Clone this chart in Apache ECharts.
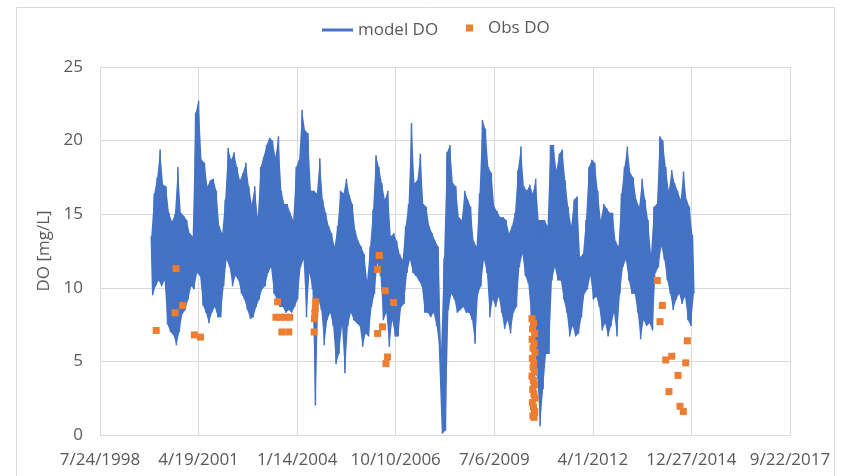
<!DOCTYPE html>
<html>
<head>
<meta charset="utf-8">
<script src="https://cdn.jsdelivr.net/npm/echarts@6/dist/echarts.min.js"></script>
<style>html,body{margin:0;padding:0;background:#fff;}#c{width:850px;height:476px;}</style>
</head>
<body>
<div id="c"></div>
<script>
// X values are Excel serial day numbers (36000 = 7/24/1998)
const xTicks = [36000, 37000, 38000, 39000, 40000, 41000, 42000, 43000];
const yTicks = [0, 5, 10, 15, 20, 25];
const seriesNames = ['model DO', 'Obs DO'];

// model DO: daily band read as high/low envelope per 30-day window, starting at day 36520
const modelStartDay = 36520;
const modelStepDays = 30;
const modelHigh = [
13.5,16.4,17.5,19.4,17.0,16.9,15.1,14.5,15.0,18.2,15.1,14.9,14.6,13.7,13.5,21.9,22.7,18.7,18.5,16.9,
17.3,17.4,16.6,14.2,13.7,16.0,19.5,18.7,19.2,18.2,17.3,17.8,18.5,16.9,15.7,16.9,14.8,18.2,18.9,19.7,
20.2,20.0,18.9,20.3,16.6,15.7,15.7,15.1,14.6,18.2,18.7,22.1,20.7,20.5,16.6,16.6,16.4,18.8,16.0,15.1,
14.2,13.7,12.8,14.2,16.6,16.4,17.4,16.3,15.7,13.9,13.2,12.8,12.3,10.5,12.8,15.3,19.0,18.2,17.1,16.0,
16.6,13.5,13.7,13.2,12.3,11.9,14.2,15.7,21.2,17.1,17.3,19.1,15.7,15.5,14.2,13.7,13.2,12.8,5.8,12.0,
19.2,19.7,17.1,16.9,14.8,14.6,16.6,16.0,15.5,13.2,12.8,16.4,21.4,20.8,18.2,17.8,15.5,15.2,14.8,14.8,
14.6,13.7,14.2,15.1,18.0,19.6,16.9,16.6,17.0,16.4,17.4,14.6,14.6,14.6,14.2,19.7,19.7,18.0,19.1,19.4,
17.3,15.5,14.2,16.0,16.2,12.1,12.3,14.6,18.2,18.7,18.5,16.6,14.6,15.7,15.4,15.1,15.1,13.2,12.8,16.4,
18.2,19.6,17.8,17.5,16.0,15.5,17.4,16.0,14.6,12.3,15.5,15.7,20.3,20.0,18.2,16.6,18.0,17.1,16.6,16.0,
17.9,16.0,15.5,13.6
];
const modelLow = [
9.5,10.1,10.5,10.1,10.5,7.5,7.0,6.8,6.1,7.0,8.2,8.5,9.2,10.1,9.9,11.0,10.8,8.8,8.3,7.6,
8.3,8.7,8.0,8.0,10.1,11.9,11.4,10.1,10.8,10.5,9.6,9.2,8.5,7.9,8.0,8.7,9.2,9.9,10.1,11.0,
11.4,9.6,9.2,8.7,8.7,8.3,8.5,8.3,8.7,9.2,11.4,11.9,8.0,11.0,9.9,2.0,9.2,8.5,6.1,7.8,
8.3,7.4,4.8,5.5,7.4,4.2,7.4,8.3,7.8,7.6,7.4,6.0,6.9,6.7,8.7,9.6,11.7,10.8,7.8,8.3,
6.0,7.8,6.7,6.7,8.7,8.9,11.0,11.9,11.0,10.8,10.5,10.1,8.3,8.3,8.0,8.3,7.4,5.8,0.1,0.3,
8.5,9.6,9.2,8.3,8.5,8.7,8.3,8.3,7.8,6.2,9.6,10.1,11.9,11.0,8.0,9.2,8.7,9.4,8.3,7.2,
7.8,6.9,8.3,8.7,11.4,12.3,10.8,10.3,8.0,6.5,4.0,0.6,3.1,5.5,5.5,10.5,11.4,10.5,10.5,9.2,
8.3,6.7,7.4,6.7,6.9,8.0,9.6,9.9,10.8,9.2,9.4,8.7,7.1,7.6,6.7,7.4,8.3,6.7,9.6,11.4,
11.9,10.5,9.6,9.6,8.3,6.5,7.8,7.4,7.6,7.1,11.0,11.4,12.8,11.9,10.5,9.6,8.5,9.2,9.6,8.9,
9.4,7.8,7.4,9.6
];

// Obs DO: observed points (day, mg/L)
const obsDays = [
36570,36762,36772,36839,36958,37019,
37785,37802,37830,37845,37880,37915,37925,
38172,38176,38180,38184,38188,
38816,38816,38833,38866,38894,38901,38917,38978,
40382,40398,40388,40410,40384,40404,40392,40412,40386,40400,40394,40408,40382,40396,40406,40390,40402,40412,40386,40398,40408,40392,40404,40410,
41654,41681,41705,41739,41772,41800,41864,41884,41918,41942,41958
];
const obsValues = [
7.1,8.3,11.3,8.8,6.8,6.65,
8.0,9.05,8.0,7.0,8.0,7.0,8.0,
7.0,7.9,8.25,8.6,9.05,
11.25,6.9,12.2,7.35,9.8,4.85,5.3,9.0,
7.9,7.6,7.2,6.9,6.5,6.2,5.9,5.6,5.2,4.9,4.6,4.3,4.0,3.7,3.4,3.1,2.8,2.5,2.2,1.9,1.6,1.3,1.2,1.5,
10.5,7.7,8.8,5.1,2.95,5.35,4.05,1.95,1.6,4.9,6.4
];

const modelData = [];
for (let i = 0; i < modelHigh.length; i++) {
  const t = modelStartDay + modelStepDays * i;
  modelData.push([t, modelHigh[i]]);
  modelData.push([t + modelStepDays / 2, modelLow[i]]);
}
const obsData = obsDays.map((d, i) => [d, obsValues[i]]);

function fmtDate(v) {
  const d = new Date(Math.round((v - 25569) * 86400000));
  return (d.getUTCMonth() + 1) + '/' + d.getUTCDate() + '/' + d.getUTCFullYear();
}

const BLUE = '#4472C4';
const FONT = '"Open Sans", "Liberation Sans", Arial, sans-serif';
const TXT = '#595959';
const chart = echarts.init(document.getElementById('c'), null, {renderer: 'canvas'});
chart.setOption({
  animation: false,
  backgroundColor: '#ffffff',
  textStyle: {fontFamily: FONT},
  graphic: [{
    type: 'rect', silent: true, z: -10,
    shape: {x: 16.5, y: 7.5, width: 818, height: 500},
    style: {fill: 'none', stroke: '#D9D9D9', lineWidth: 1}
  }],
  legend: [{
    data: [{name: seriesNames[0], icon: 'rect'}],
    left: 322, top: 21.5, padding: 0, itemWidth: 31, itemHeight: 3,
    textStyle: {fontSize: 17, color: TXT, fontFamily: FONT}
  }, {
    data: [{name: seriesNames[1], icon: 'rect'}],
    left: 466, top: 19.5, padding: 0, itemWidth: 7, itemHeight: 7,
    textStyle: {fontSize: 17, color: TXT, fontFamily: FONT, padding: [0, 0, 0, 10]}
  }],
  grid: {left: 100, right: 60, top: 67, bottom: 41, containLabel: false},
  xAxis: {
    type: 'value', min: xTicks[0], max: xTicks[xTicks.length - 1], interval: 1000,
    axisLine: {show: true, lineStyle: {color: '#D9D9D9', width: 1}},
    axisTick: {show: false},
    splitLine: {show: true, lineStyle: {color: '#D9D9D9', width: 1}},
    axisLabel: {formatter: fmtDate, fontSize: 17, color: TXT, margin: 17, showMinLabel: true, showMaxLabel: true, hideOverlap: false, fontFamily: FONT}
  },
  yAxis: {
    type: 'value', min: yTicks[0], max: yTicks[yTicks.length - 1], interval: 5,
    name: 'DO [mg/L]', nameLocation: 'middle', nameGap: 34, nameRotate: 90,
    nameTextStyle: {fontSize: 17, color: TXT, fontFamily: FONT},
    axisLine: {show: false}, axisTick: {show: false},
    splitLine: {show: true, lineStyle: {color: '#D9D9D9', width: 1}},
    axisLabel: {fontSize: 17, color: TXT, margin: 17, fontFamily: FONT}
  },
  series: [{
    name: seriesNames[0], type: 'line', data: modelData, showSymbol: false, symbol: 'none',
    lineStyle: {color: BLUE, width: 1.5}, itemStyle: {color: BLUE}, z: 3
  }, {
    // filled body of the dense daily model band (same envelope arrays)
    name: 'model band', type: 'custom', data: [[modelStartDay, modelHigh[0]]], z: 2, silent: true,
    renderItem: function (params, api) {
      const pts = [];
      for (let i = 0; i < modelHigh.length; i++) {
        pts.push(api.coord([modelStartDay + modelStepDays * i, modelHigh[i]]));
      }
      for (let i = modelLow.length - 1; i >= 0; i--) {
        pts.push(api.coord([modelStartDay + modelStepDays * i + modelStepDays / 2, modelLow[i]]));
      }
      return {type: 'polygon', shape: {points: pts}, style: {fill: BLUE, stroke: null}};
    }
  }, {
    name: seriesNames[1], type: 'scatter', data: obsData, symbol: 'rect', symbolSize: 7,
    itemStyle: {color: '#ED7D31', opacity: 1}, z: 4
  }]
});
</script>
</body>
</html>
